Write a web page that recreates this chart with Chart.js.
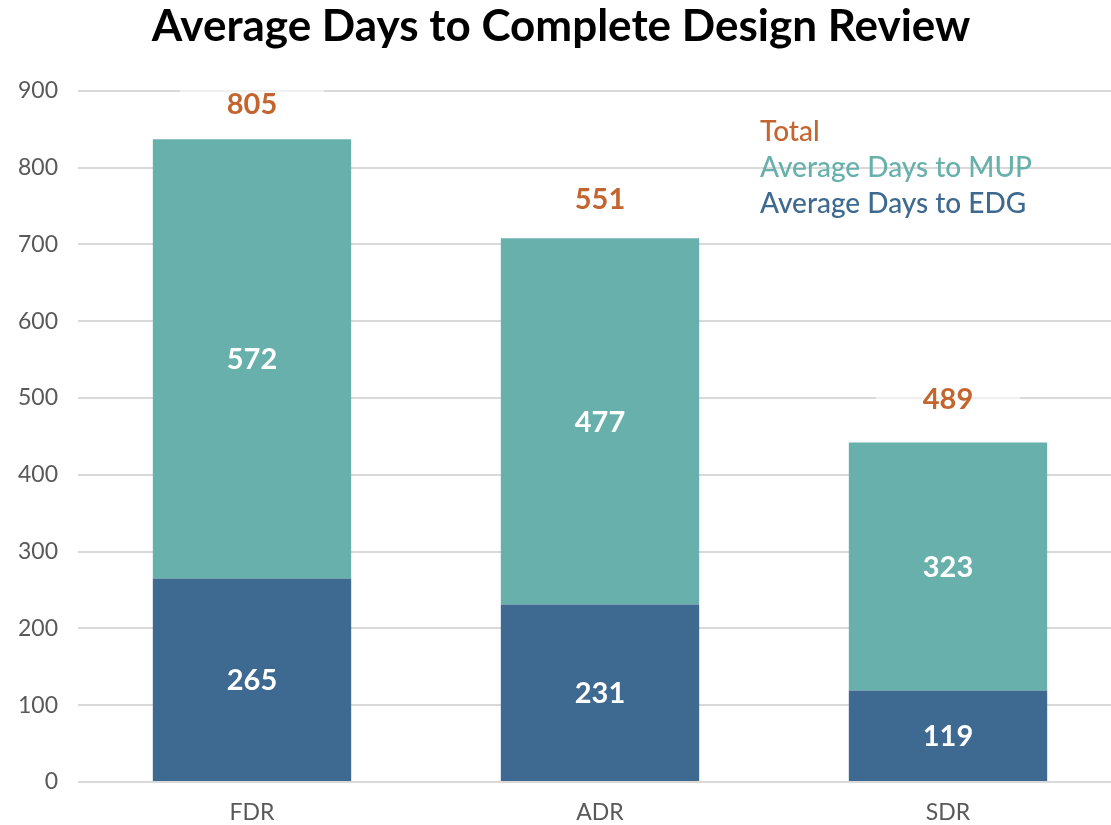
<!DOCTYPE html>
<html>
<head>
<meta charset="utf-8">
<script src="https://cdn.jsdelivr.net/npm/chart.js@4.4.1/dist/chart.umd.min.js"></script>
<style>
  html, body { margin: 0; padding: 0; background: #fff; overflow: hidden; }
  #wrap { width: 1122px; height: 825px; position: relative; }
</style>
</head>
<body>
<div id="wrap"><canvas id="chart"></canvas></div>
<script>
// data
const categories = ['FDR', 'ADR', 'SDR'];
const daysToEDG = [265, 231, 119];
const daysToMUP = [572, 477, 323];
const totals = [805, 551, 489];
const yTicks = [0, 100, 200, 300, 400, 500, 600, 700, 800, 900];

const colEDG = '#3e6990';
const colMUP = '#68b0ac';
const colTotal = '#c4642f';
const font = 'Lato, "Open Sans", sans-serif';

// value labels inside bars + totals above the stacks + text legend
const labelPlugin = {
  id: 'labels',
  afterDatasetsDraw(chart) {
    const ctx = chart.ctx;
    ctx.save();
    ctx.textAlign = 'center';
    ctx.textBaseline = 'middle';
    ctx.font = 'bold 29px ' + font;
    ctx.fillStyle = '#ffffff';
    chart.data.datasets.forEach((ds, di) => {
      chart.getDatasetMeta(di).data.forEach((bar, i) => {
        ctx.fillText(ds.data[i], bar.x, (bar.y + bar.base) / 2 + 1);
      });
    });

    // totals
    const top = chart.getDatasetMeta(1).data;
    const offs = [36, 40, 44];
    top.forEach((bar, i) => {
      const y = bar.y - offs[i];
      const w = ctx.measureText(totals[i]).width;
      ctx.fillStyle = 'rgba(255,255,255,0.6)';
      ctx.fillRect(bar.x - w / 2 - 47, y - 15, w + 94, 30);
      ctx.fillStyle = colTotal;
      ctx.fillText(totals[i], bar.x, y + 1);
    });

    // legend (text only)
    ctx.textAlign = 'left';
    ctx.font = '500 28px ' + font;
    const items = [['Total', colTotal], ['Average Days to MUP', colMUP], ['Average Days to EDG', colEDG]];
    items.forEach((it, k) => {
      ctx.fillStyle = it[1];
      ctx.fillText(it[0], 760, 132 + k * 36);
    });
    ctx.restore();
  }
};

new Chart(document.getElementById('chart'), {
  type: 'bar',
  data: {
    labels: categories,
    datasets: [
      { label: 'Average Days to EDG', data: daysToEDG, backgroundColor: colEDG, stack: 's' },
      { label: 'Average Days to MUP', data: daysToMUP, backgroundColor: colMUP, stack: 's' }
    ]
  },
  options: {
    responsive: true,
    maintainAspectRatio: false,
    animation: false,
    layout: { padding: 0 },
    datasets: { bar: { barPercentage: 1, categoryPercentage: 0.57 } },
    plugins: {
      legend: { display: false },
      tooltip: { enabled: false },
      title: {
        display: true,
        text: 'Average Days to Complete Design Review',
        color: '#000',
        font: { family: font, size: 44, weight: 'bold' },
        padding: { top: 0, bottom: 38 },
        align: 'center'
      }
    },
    scales: {
      x: {
        grid: { display: false },
        border: { display: false },
        afterFit(scale) { scale.height = 43; },
        ticks: { color: '#595959', font: { family: font, size: 23 }, padding: 9 }
      },
      y: {
        min: 0,
        max: 900,
        afterBuildTicks(scale) { scale.ticks = yTicks.map(v => ({ value: v })); },
        afterFit(scale) { scale.width = 78; },
        grid: { color: '#d9d9d9', lineWidth: 2, drawTicks: false },
        border: { display: false },
        ticks: { color: '#595959', font: { family: font, size: 23 }, padding: 20 }
      }
    }
  },
  plugins: [labelPlugin]
});
</script>
</body>
</html>
